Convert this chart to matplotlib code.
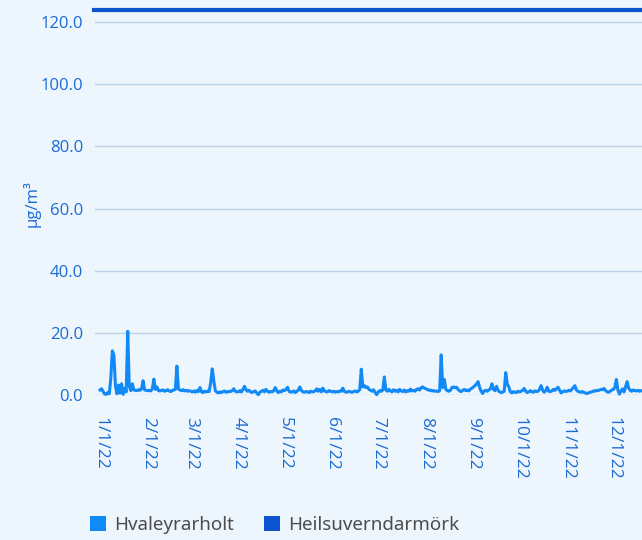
import matplotlib
matplotlib.use("Agg")
import matplotlib.pyplot as plt
from matplotlib.patches import Patch
import pandas as pd

plt.rcParams['font.family'] = ['Open Sans', 'DejaVu Sans']

series_name = "Hvaleyrarholt"
limit_name = "Heilsuverndarmörk"
limit_value = 124.0

jan = [1.6, 2.0, 1.1, 0.3, 0.2, 0.8, 0.4, 5.5, 14.2, 12.8, 3.0, 0.4, 3.2, 0.6, 3.6, 0.2, 2.2, 1.0, 20.5, 2.8, 1.4, 3.6, 1.6, 1.5, 1.4, 1.7, 1.5, 2.0, 4.6, 1.6, 1.5]
feb = [1.4, 1.5, 1.3, 2.0, 5.1, 1.8, 2.6, 1.4, 1.3, 1.5, 1.6, 1.2, 1.4, 1.7, 1.3, 1.1, 1.5, 1.6, 1.8, 9.3, 1.9, 1.6, 1.4, 1.7, 1.3, 1.5, 1.2, 1.4]
mar = [1.2, 1.0, 1.3, 0.9, 1.5, 1.1, 2.4, 1.0, 0.8, 1.2, 1.0, 1.3, 1.1, 4.0, 8.4, 4.6, 1.4, 0.9, 0.7, 1.0, 0.8, 1.1, 1.3, 0.9, 1.0, 1.2, 1.1, 1.4, 2.0, 1.2, 1.0]
apr = [1.1, 1.4, 1.0, 1.8, 2.8, 1.6, 1.2, 1.5, 1.0, 0.8, 1.1, 1.3, 0.6, 0.1, 0.9, 1.2, 1.5, 1.0, 1.8, 1.2, 0.9, 1.1, 1.0, 1.4, 2.4, 1.3, 0.8, 1.2, 1.0, 1.6]
may = [1.4, 1.8, 2.5, 1.2, 0.9, 1.0, 1.3, 0.8, 1.1, 1.6, 2.6, 1.5, 1.0, 0.9, 1.1, 1.0, 0.8, 1.2, 1.0, 1.1, 1.3, 2.0, 1.2, 1.8, 1.0, 2.2, 1.3, 1.1, 1.0, 1.4, 1.2]
jun = [1.0, 1.2, 0.9, 1.1, 1.0, 1.3, 1.2, 2.2, 1.1, 0.9, 1.0, 1.2, 1.0, 0.9, 1.1, 1.3, 1.0, 1.2, 1.8, 8.3, 2.6, 3.0, 2.4, 2.6, 1.8, 1.5, 1.2, 1.7, 0.8, 0.1]
jul = [1.0, 1.4, 1.2, 1.6, 5.8, 1.6, 1.2, 1.8, 1.3, 1.0, 1.7, 1.2, 1.5, 1.0, 1.8, 1.3, 1.1, 1.6, 1.0, 1.4, 1.2, 1.9, 1.3, 1.5, 1.2, 1.8, 2.0, 1.6, 2.4, 2.6, 2.2]
aug = [2.0, 1.8, 1.5, 1.6, 1.3, 1.4, 1.2, 1.3, 1.1, 1.4, 12.9, 2.4, 5.0, 1.8, 1.4, 1.2, 1.5, 2.4, 2.6, 2.3, 2.5, 1.8, 1.3, 1.1, 1.5, 1.8, 1.4, 1.6, 1.3, 1.9, 2.2]
sep = [2.6, 3.0, 3.6, 4.3, 2.4, 1.2, 0.5, 1.3, 1.5, 1.2, 1.6, 2.0, 3.6, 1.8, 1.4, 2.8, 1.5, 1.0, 0.8, 0.9, 1.2, 7.2, 3.5, 2.6, 1.0, 0.7, 1.1, 0.9, 0.8, 1.2]
oct_ = [1.0, 1.2, 1.5, 2.1, 1.2, 0.8, 1.0, 1.4, 1.0, 0.9, 1.3, 1.1, 1.2, 1.8, 3.0, 1.6, 0.9, 1.4, 2.5, 1.2, 1.1, 1.3, 1.8, 1.5, 1.9, 2.5, 1.6, 0.7, 1.0, 1.3, 1.2]
nov = [1.2, 1.5, 1.3, 1.8, 2.4, 3.0, 1.6, 1.2, 1.0, 0.9, 1.1, 0.8, 0.6, 0.5, 0.7, 0.9, 1.0, 1.3, 1.2, 1.5, 1.4, 1.6, 1.8, 1.7, 2.1, 1.4, 1.0, 0.9, 1.2, 1.6]
dec = [1.8, 2.4, 5.0, 1.6, 0.3, 1.2, 2.0, 1.0, 2.6, 4.3, 2.2, 1.5, 1.2, 1.6, 1.4, 1.3, 1.5, 1.2, 1.4, 1.3, 1.6, 1.2, 1.5, 1.1, 1.3, 1.4, 1.2, 1.0, 1.3, 1.5, 1.2]

values = jan + feb + mar + apr + may + jun + jul + aug + sep + oct_ + nov + dec
dates = pd.date_range("2022-01-01", periods=len(values), freq="D")

tick_dates = pd.date_range("2022-01-01", periods=12, freq="MS")
tick_labels = ["1/1/22", "2/1/22", "3/1/22", "4/1/22", "5/1/22", "6/1/22",
               "7/1/22", "8/1/22", "9/1/22", "10/1/22", "11/1/22", "12/1/22"]
y_ticks = [0, 20, 40, 60, 80, 100, 120]
y_tick_labels = ["0.0", "20.0", "40.0", "60.0", "80.0", "100.0", "120.0"]

bg = "#edf5fd"
series_color = "#1189f7"
limit_color = "#0b55cf"
text_blue = "#1b6bd4"
grid_color = "#bcd2ea"

W, H = 642, 540
fig = plt.figure(figsize=(W / 100, H / 100), dpi=100, facecolor=bg)
ax_left, ax_right = 95, 664
ax_bottom_px, ax_top_px = 395, 3.4
ax = fig.add_axes([ax_left / W, 1 - ax_bottom_px / H,
                   (ax_right - ax_left) / W, (ax_bottom_px - ax_top_px) / H])
ax.set_facecolor(bg)

ax.plot(dates, values, color=series_color, lw=2.2, clip_on=False, zorder=3,
        solid_joinstyle="round")
ax.plot([dates[0] - pd.Timedelta(days=4), dates[-1] + pd.Timedelta(days=4)],
        [limit_value, limit_value], color=limit_color, lw=3.0, zorder=3, clip_on=False)

ax.set_xlim(dates[0] - pd.Timedelta(days=3.3), dates[-1] + pd.Timedelta(days=3))
ax.set_ylim(0, 126)

ax.set_yticks(y_ticks)
ax.set_yticklabels(y_tick_labels)
ax.set_xticks(tick_dates)
ax.set_xticklabels(tick_labels, rotation=-90, va="top", ha="center")

ax.tick_params(axis="y", length=0, pad=8.5, labelsize=12, labelcolor=text_blue)
ax.tick_params(axis="x", length=0, pad=16, labelsize=12.5, labelcolor=text_blue)

ax.grid(axis="y", color=grid_color, lw=1.0, zorder=0)
ax.grid(axis="x", visible=False)
for s in ax.spines.values():
    s.set_visible(False)

fig.text(32 / W, 1 - 204 / H, "µg/m³", rotation=90, color=text_blue,
         fontsize=12, ha="center", va="center")

handles = [Patch(facecolor=series_color, edgecolor="none", label=series_name),
           Patch(facecolor=limit_color, edgecolor="none", label=limit_name)]
fig.legend(handles=handles, loc="center left", bbox_to_anchor=(90 / W, 1 - 525 / H),
           ncol=2, frameon=False, prop={"family": ["Noto Sans", "DejaVu Sans"], "size": 13.5},
           labelcolor="#4d4d4d",
           handlelength=0.85, handleheight=0.85, handletextpad=0.45, columnspacing=1.6,
           borderaxespad=0, borderpad=0)

fig.savefig("out.png", dpi=100, facecolor=bg)
